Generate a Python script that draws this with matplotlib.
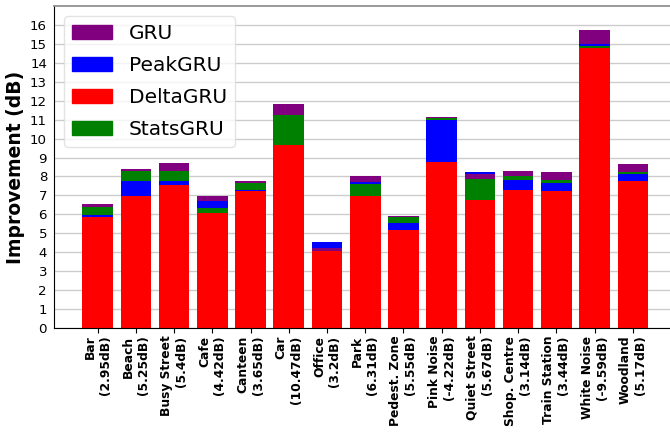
import numpy as np
import matplotlib
matplotlib.use('Agg')
import matplotlib.pyplot as plt
from matplotlib.patches import Patch

# categories and the noise SNR shown under each
categorias = ['Bar\n(2.95dB)', 'Beach\n(5.25dB)', 'Busy Street\n(5.4dB)', 'Cafe\n(4.42dB)',
              'Canteen\n(3.65dB)', 'Car\n(10.47dB)', 'Office\n(3.2dB)', 'Park\n(6.31dB)',
              'Pedest. Zone\n(5.55dB)', 'Pink Noise\n(-4.22dB)', 'Quiet Street\n(5.67dB)',
              'Shop. Centre\n(3.14dB)', 'Train Station\n(3.44dB)', 'White Noise\n(-9.59dB)',
              'Woodland\n(5.17dB)']

# improvement (dB) of each model
gru      = [6.55, 8.38, 8.71, 6.97, 7.76, 11.83, 4.22, 8.03, 5.91, 11.14, 8.13, 8.29, 8.24, 15.73, 8.66]
peakgru  = [5.97, 7.76, 7.74, 6.71, 7.30, 9.60, 4.54, 7.71, 5.54, 10.98, 8.24, 7.81, 7.66, 15.01, 8.13]
deltagru = [5.86, 6.97, 7.55, 6.08, 7.23, 9.66, 4.07, 6.97, 5.17, 8.76, 6.76, 7.29, 7.23, 14.78, 7.76]
statsgru = [6.37, 8.27, 8.27, 6.34, 7.66, 11.25, 4.02, 7.60, 5.84, 11.09, 7.87, 8.03, 7.81, 14.89, 8.24]

modelos = ['GRU', 'PeakGRU', 'DeltaGRU', 'StatsGRU']
cores = ['purple', 'blue', 'red', 'green']
valores = np.array([gru, peakgru, deltagru, statsgru])

fig = plt.figure(figsize=(6.7, 4.45), dpi=100)
ax = fig.add_axes([0.0806, 0.263, 0.929, 0.7235])

x = np.arange(len(categorias))
# bars overlap: biggest drawn first, DeltaGRU always drawn last (in front)
for i in x:
    ordem = [m for m in np.argsort(valores[:, i])[::-1] if m != 2] + [2]
    for m in ordem:
        ax.bar(x[i], valores[m, i], width=0.8, color=cores[m], zorder=2)

ax.set_ylim(0, 17)
ax.set_yticks(range(0, 17))
ax.set_xlim(-1.14, 15.14)
ax.set_xticks(x)
ax.set_xticklabels(categorias, rotation=90, fontsize=8.8, fontweight='bold',
                   ha='center', va='top', multialignment='right')
ax.tick_params(axis='y', labelsize=9.6, length=0, pad=5)
ax.tick_params(axis='x', length=3.5, pad=2)
ax.set_ylabel('Improvement (dB)', fontsize=13.5, fontweight='bold')
ax.yaxis.set_label_coords(-0.047, 0.5)

ax.grid(axis='y', color='#cccccc', linewidth=1.0, zorder=0)
ax.set_axisbelow(True)
ax.spines['top'].set_color('#888888')
ax.spines['top'].set_linewidth(1.2)
ax.spines['right'].set_visible(False)

handles = [Patch(color=c, label=m) for m, c in zip(modelos, cores)]
ax.legend(handles=handles, loc='upper left', fontsize=14.5, framealpha=0.8,
          edgecolor='#dddddd', fancybox=True, labelspacing=0.65)

plt.savefig('out.png', dpi=100)
